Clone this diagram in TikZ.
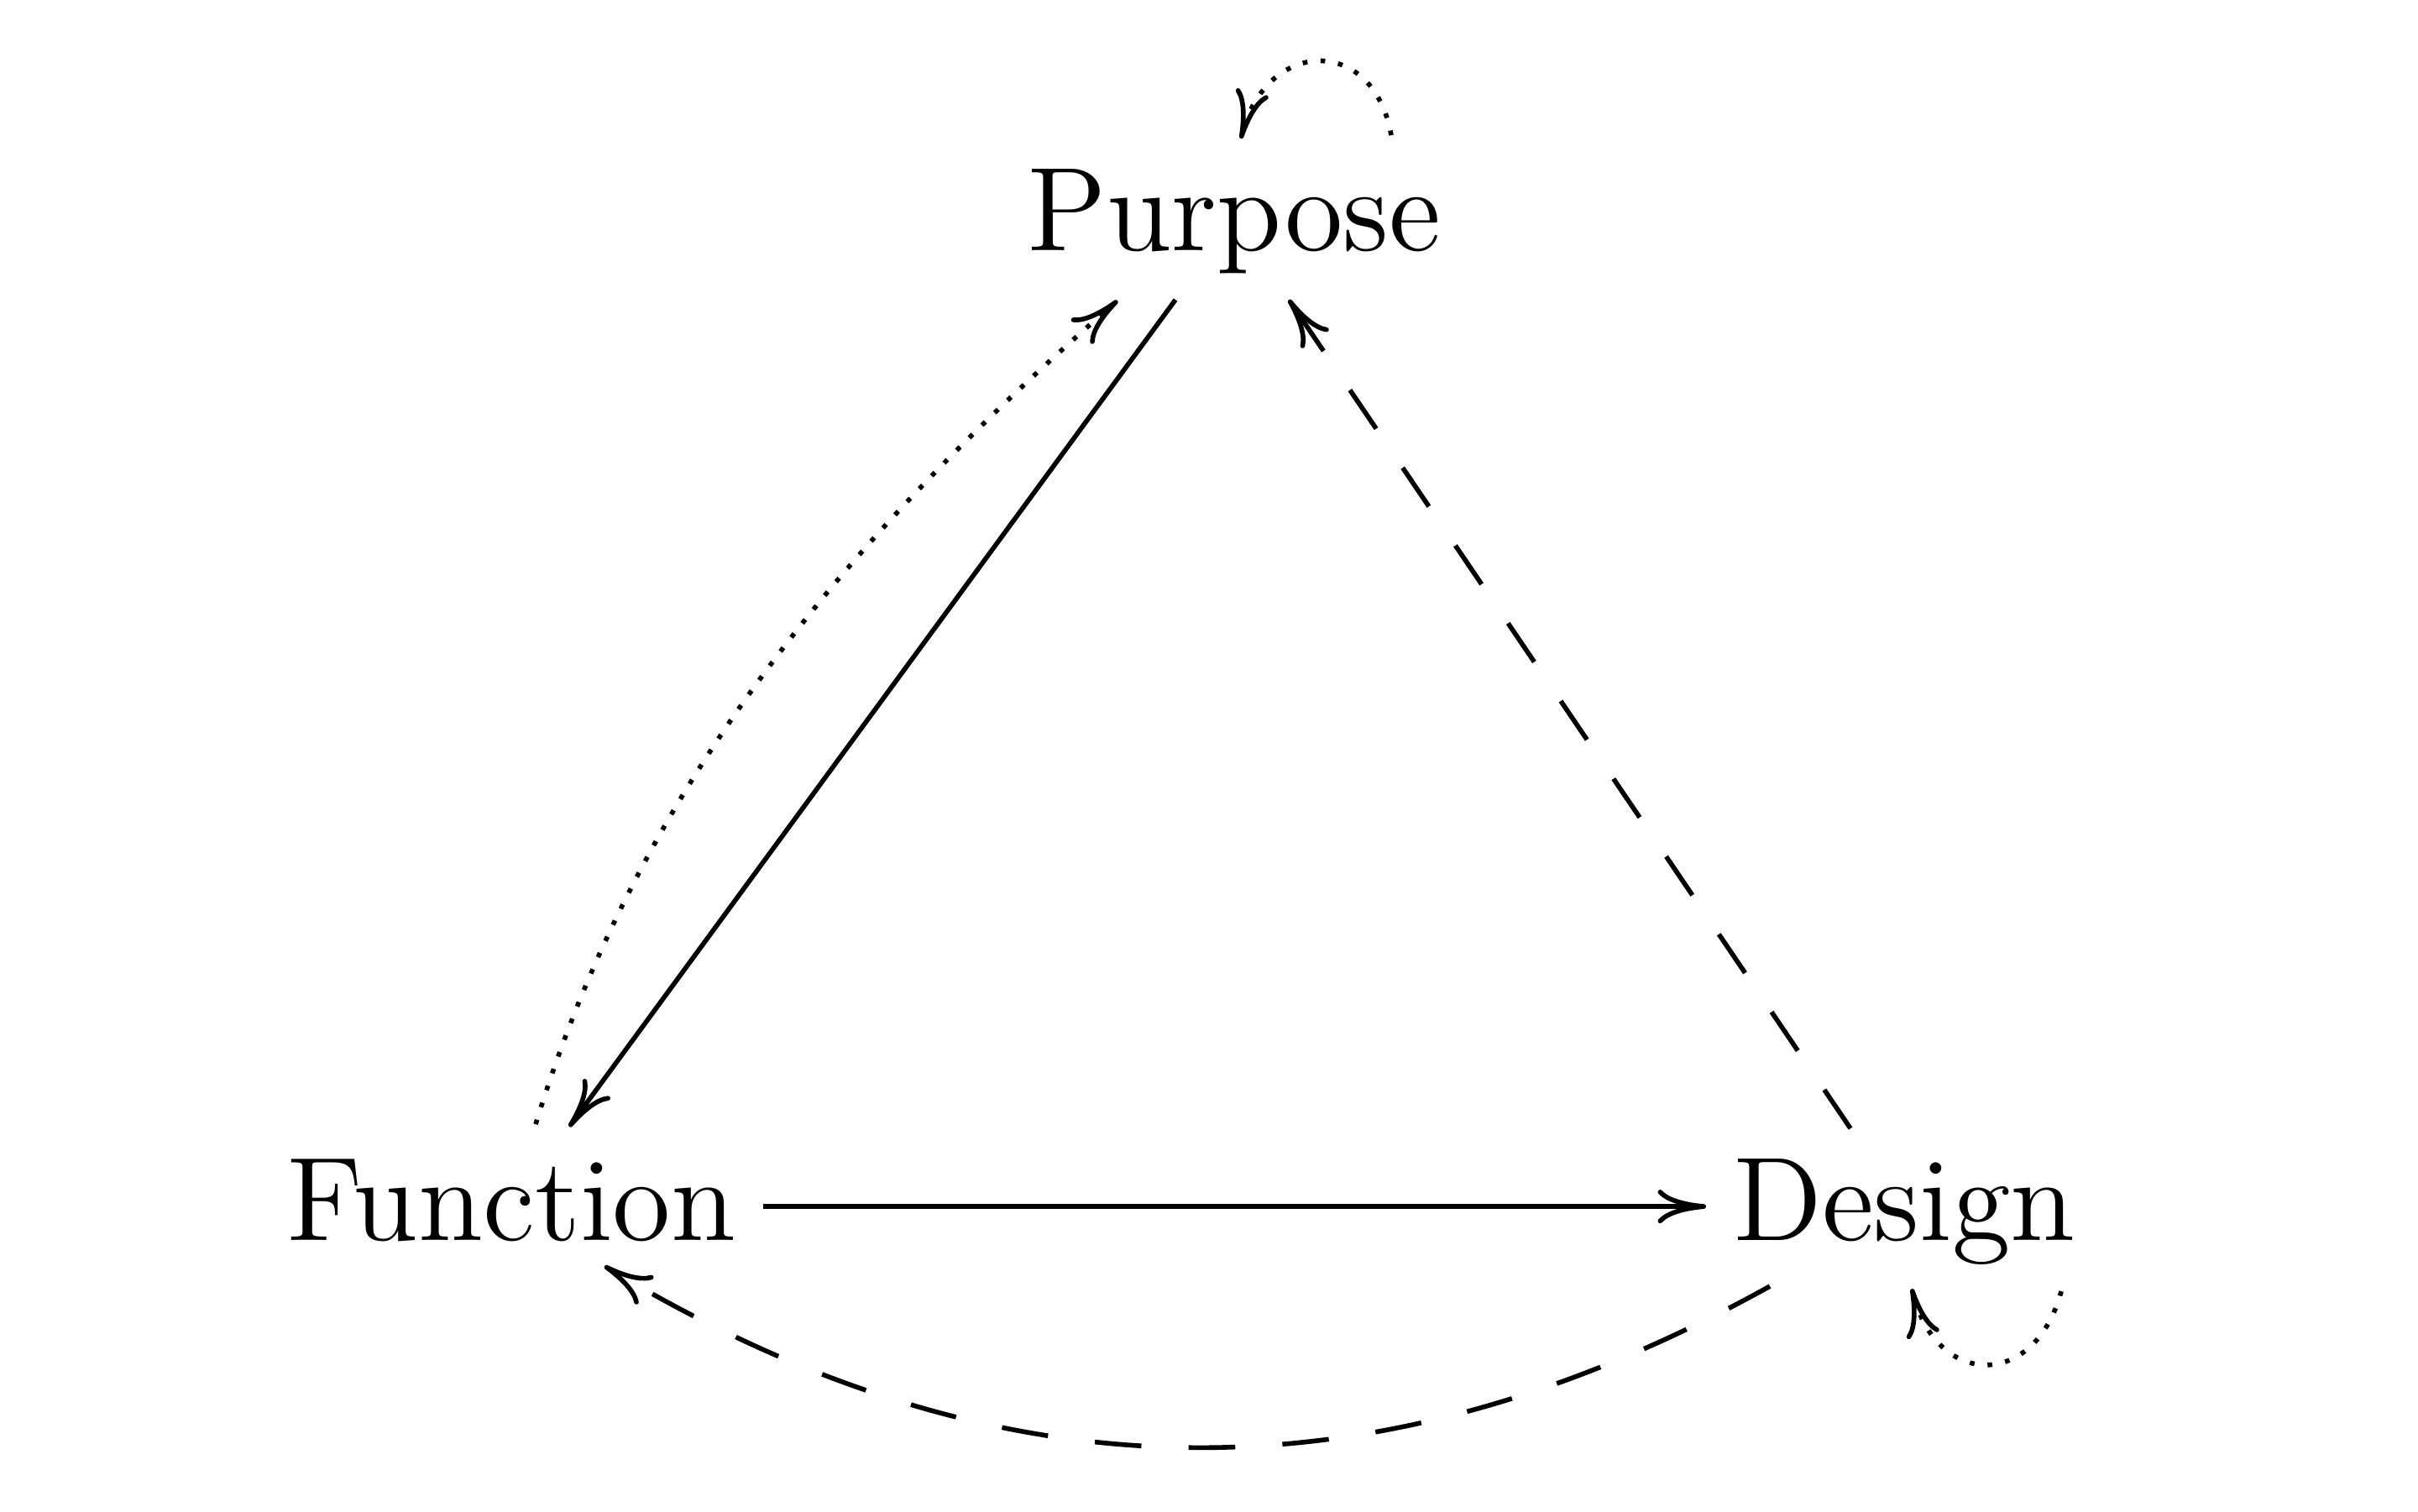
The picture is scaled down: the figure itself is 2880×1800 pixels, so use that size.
\documentclass[tikz,border=0pt]{standalone}
\usetikzlibrary{arrows.meta,calc}
\begin{document}
\tikzset{
  lbl/.style={anchor=base, inner sep=0pt, font=\fontsize{11.35}{13.6}\selectfont},
  arr/.style={line width=0.45pt, -{Computer Modern Rightarrow[length=4.6pt,width=3.2pt]}},
  dsh/.style={dash pattern=on 4.45pt off 4.5pt},
  dts/.style={dash pattern=on 0.45pt off 1.25pt},
}
\begin{tikzpicture}[x=0.08pt,y=-0.08pt]
\useasboundingbox (0,0) rectangle (2880,1800);
\node[lbl] (P) at (1470,298) {Purpose};
\node[lbl] (F) at (609,1477) {Function};
\node[lbl] (D) at (2268,1477) {Design};
% solid arrows
\draw[arr] ($(P.base)+(-70,59)$) -- ($(F.base)+(69,-135)$);
\draw[arr] ($(F.base)+(300,-40)$) -- ($(D.base)+(-236,-40)$);
% dashed arrows
\draw[arr,dsh] ($(D.base)+(-64,-133)$) -- ($(P.base)+(65,59)$);
\draw[arr,dsh] ($(D.base)+(-160,55)$) to[bend left=30] ($(F.base)+(111,31)$);
% dotted arrows
\draw[arr,dts] ($(F.base)+(29,-138)$) to[out=73,in=221,looseness=0.9] ($(P.base)+(-139,60)$);
\draw[arr,dts] ($(P.base)+(187,-137)$) to[out=100,in=76,looseness=1.75] ($(P.base)+(8,-133)$);
\draw[arr,dts] ($(D.base)+(187,61)$) to[out=255,in=284,looseness=1.75] ($(D.base)+(9,58)$);
\end{tikzpicture}
\end{document}
